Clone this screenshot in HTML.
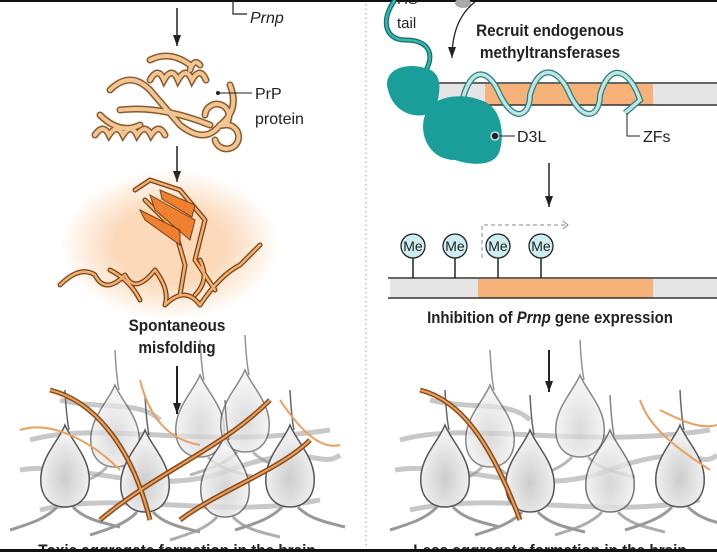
<!DOCTYPE html>
<html><head><style>
html,body{margin:0;padding:0;background:#fff;}
svg{display:block;}
text{font-family:"Liberation Sans",sans-serif;}
</style></head><body>
<svg width="717" height="552" viewBox="0 0 717 552" xmlns="http://www.w3.org/2000/svg">
<defs>
<marker id="ah" markerWidth="12" markerHeight="10" refX="11" refY="4" orient="auto" markerUnits="userSpaceOnUse">
<path d="M0,0 L11,4 L0,8 Z" fill="#222"/></marker>
<radialGradient id="glow"><stop offset="0.5" stop-color="#f5a050" stop-opacity="0.4"/><stop offset="1" stop-color="#f5a050" stop-opacity="0"/></radialGradient>
<radialGradient id="cell" cx="0.5" cy="0.65" r="0.5"><stop offset="0" stop-color="#cdcdcd"/><stop offset="1" stop-color="#f0f0f0"/></radialGradient>
<g id="neuron">
<path d="M0,-75 C1,-55 2,-45 4,-35" fill="none" stroke="#666" stroke-width="1.5"/>
<path d="M0,-40 C6,-25 22,-10 24,10 C26,32 14,42 0,42 C-14,42 -26,32 -24,10 C-22,-10 -6,-25 0,-40 Z" fill="url(#cell)" stroke="#555" stroke-width="1.5"/>
<path d="M-8,42 C-20,55 -40,60 -55,65 M8,42 C20,55 40,58 55,62" fill="none" stroke="#999" stroke-width="3"/>
</g>
<path id="prot" d="M95,135 q8,-12 14,0 q8,-12 14,0 q8,-12 14,0 q8,-12 14,0 q8,-12 14,0 M150,80 q8,-14 14,0 q8,-14 14,0 q8,-14 14,0 q8,-14 14,0 M190,70 q4,-12 10,-5 M110,90 q20,-20 40,0 l30,35 q25,20 40,0 q20,-15 10,-40 M205,115 a12,12 0 1 1 20,10 a12,12 0 1 1 -10,15 M120,110 q40,-5 90,15 M150,60 q20,-10 40,5 M100,115 q20,20 40,10"/>
<path id="mis" d="M135,190 l15,-10 30,10 25,30 -10,40 20,30 M145,200 l30,30 10,35 -5,30 M60,285 q20,-20 35,-10 q10,20 30,0 q10,20 30,-5 q15,20 10,35 q20,-20 35,0 q20,-30 40,-40 l20,-20 M110,270 q20,10 30,30 M200,260 q10,20 -5,35"/>
</defs>
<rect x="0" y="0" width="717" height="2" fill="#111"/>
<line x1="366" y1="4" x2="366" y2="548" stroke="#999" stroke-dasharray="1.5,3"/>

<!-- left top -->
<path d="M233,0 V14 H247" fill="none" stroke="#222" stroke-width="1.2"/>
<text x="250" y="23" font-size="16" font-style="italic" fill="#222">Prnp</text>
<line x1="177" y1="8" x2="177" y2="46" stroke="#222" stroke-width="1.5" marker-end="url(#ah)"/>
<use href="#prot" fill="none" stroke="#8a5a2a" stroke-width="7" stroke-linecap="round"/>
<use href="#prot" fill="none" stroke="#f2c594" stroke-width="4" stroke-linecap="round"/>
<circle cx="218" cy="93" r="2" fill="#222"/>
<line x1="218" y1="93" x2="252" y2="93" stroke="#222"/>
<text x="255" y="99" font-size="16" fill="#222">PrP</text>
<text x="255" y="124" font-size="16" fill="#222">protein</text>
<line x1="177" y1="146" x2="177" y2="182" stroke="#222" stroke-width="1.5" marker-end="url(#ah)"/>
<ellipse cx="170" cy="245" rx="110" ry="75" fill="url(#glow)"/>
<use href="#mis" fill="none" stroke="#7a4018" stroke-width="5" stroke-linecap="round" stroke-linejoin="round"/>
<use href="#mis" fill="none" stroke="#f0b070" stroke-width="2.5" stroke-linecap="round" stroke-linejoin="round"/>
<path d="M150,195 l45,25 -5,20 -35,-30 Z M140,210 l40,20 0,15 -35,-25Z M160,190 l35,15 -3,12 -30,-18Z" fill="#ee8030" stroke="#7a4018"/>
<text x="177" y="331" font-size="17" font-weight="bold" text-anchor="middle" fill="#222" transform="translate(177,0) scale(0.9,1) translate(-177,0)">Spontaneous</text>
<text x="177" y="353" font-size="17" font-weight="bold" text-anchor="middle" fill="#222" transform="translate(177,0) scale(0.9,1) translate(-177,0)">misfolding</text>

<!-- right top -->
<path d="M395,0 C380,20 385,40 405,40 C430,40 435,55 425,72" fill="none" stroke="#0f6f6c" stroke-width="5"/>
<path d="M395,0 C380,20 385,40 405,40 C430,40 435,55 425,72" fill="none" stroke="#39b3ad" stroke-width="2.5"/>
<text x="397" y="4" font-size="15" fill="#222">HS</text>
<text x="397" y="28" font-size="15" fill="#222">tail</text>
<ellipse cx="463" cy="3" rx="8" ry="5" fill="#aaa"/>
<path d="M475,2 C458,15 452,35 452,58" fill="none" stroke="#222" stroke-width="1.3" marker-end="url(#ah)"/>
<text x="550" y="36" font-size="17" font-weight="bold" text-anchor="middle" fill="#222" transform="translate(550,0) scale(0.9,1) translate(-550,0)">Recruit endogenous</text>
<text x="550" y="58" font-size="17" font-weight="bold" text-anchor="middle" fill="#222" transform="translate(550,0) scale(0.9,1) translate(-550,0)">methyltransferases</text>
<rect x="430" y="84" width="287" height="21" fill="#e5e5e5"/>
<rect x="485" y="84" width="168" height="21" fill="#f7b27a"/>
<line x1="430" y1="83" x2="717" y2="83" stroke="#333" stroke-width="1.5"/>
<line x1="430" y1="105" x2="717" y2="105" stroke="#333" stroke-width="1.5"/>
<path d="M460,110 C470,60 490,70 500,95 C515,125 530,115 530,95 C540,60 560,70 570,95 C585,125 600,115 600,95 C610,60 630,70 640,100 L625,113" fill="none" stroke="#2a7d7b" stroke-width="6"/>
<path d="M460,110 C470,60 490,70 500,95 C515,125 530,115 530,95 C540,60 560,70 570,95 C585,125 600,115 600,95 C610,60 630,70 640,100 L625,113" fill="none" stroke="#bfe6e6" stroke-width="3.5"/>
<path d="M388,90 C382,70 405,62 425,68 C445,72 440,95 435,110 C425,120 395,118 388,90 Z" fill="#1a9e9a"/>
<path d="M425,115 C430,97 460,92 480,100 C500,105 505,130 500,150 C495,168 470,165 455,160 C430,160 418,135 425,115 Z" fill="#1a9e9a"/>
<circle cx="495" cy="136" r="4" fill="#222" stroke="#bfe6e6" stroke-width="1.5"/>
<line x1="499" y1="136" x2="515" y2="136" stroke="#222"/>
<text x="517" y="142" font-size="16" fill="#222">D3L</text>
<path d="M627,113 V136 H640" fill="none" stroke="#222"/>
<text x="643" y="142" font-size="16" fill="#222">ZFs</text>
<line x1="549" y1="163" x2="549" y2="207" stroke="#222" stroke-width="1.5" marker-end="url(#ah)"/>
<path d="M482,258 V225 H566" fill="none" stroke="#888" stroke-dasharray="4,3"/>
<path d="M563,221 l5,4 -5,4" fill="none" stroke="#888"/>
<rect x="390" y="279" width="327" height="19" fill="#e5e5e5"/>
<rect x="478" y="279" width="175" height="19" fill="#f7b27a"/>
<line x1="388" y1="278" x2="717" y2="278" stroke="#333" stroke-width="1.5"/>
<line x1="388" y1="298" x2="717" y2="298" stroke="#333" stroke-width="1.5"/>
<g stroke="#222" stroke-width="1.5">
<line x1="413" y1="258" x2="413" y2="278"/><line x1="455" y1="258" x2="455" y2="278"/><line x1="498" y1="258" x2="498" y2="278"/><line x1="541" y1="258" x2="541" y2="278"/>
</g>
<g fill="#cdeef0" stroke="#222" stroke-width="1.3">
<circle cx="413" cy="246" r="12"/><circle cx="455" cy="246" r="12"/><circle cx="498" cy="246" r="12"/><circle cx="541" cy="246" r="12"/>
</g>
<g font-size="14" fill="#222" text-anchor="middle">
<text x="413" y="251">Me</text><text x="455" y="251">Me</text><text x="498" y="251">Me</text><text x="541" y="251">Me</text>
</g>
<text x="550" y="323" font-size="17" text-anchor="middle" fill="#222" font-weight="bold" transform="translate(550,0) scale(0.88,1) translate(-550,0)">Inhibition of <tspan font-style="italic">Prnp</tspan> gene expression</text>

<!-- neuron networks -->
<g fill="none" stroke="#c8c8c8" stroke-width="5">
<path d="M20,470 C80,460 150,500 230,470 S320,470 340,455 M30,440 C100,420 200,450 330,430 M40,510 C120,490 220,520 320,500 M60,400 C100,410 140,400 160,420"/>
<path d="M395,470 C460,460 530,500 610,470 S700,470 717,455 M400,440 C470,420 580,450 710,430 M410,510 C500,490 600,520 700,500 M430,400 C470,410 510,400 530,420"/>
</g>
<g>
<use href="#neuron" x="115" y="425" opacity="0.7"/><use href="#neuron" x="200" y="415" opacity="0.7"/><use href="#neuron" x="245" y="410" opacity="0.7"/>
<use href="#neuron" x="65" y="465"/><use href="#neuron" x="145" y="470"/><use href="#neuron" x="225" y="475" opacity="0.8"/><use href="#neuron" x="290" y="465"/>
<use href="#neuron" x="490" y="425" opacity="0.7"/><use href="#neuron" x="580" y="415" opacity="0.7"/>
<use href="#neuron" x="445" y="465"/><use href="#neuron" x="530" y="470"/><use href="#neuron" x="610" y="470" opacity="0.8"/><use href="#neuron" x="680" y="465"/>
</g>
<g fill="none" stroke="#8a4a18" stroke-width="5">
<path d="M100,520 C160,470 220,450 270,400"/><path d="M180,520 C220,490 280,470 310,440"/><path d="M50,390 C90,400 130,440 150,520"/>
<path d="M420,390 C460,400 490,440 520,520"/>
</g>
<g fill="none" stroke="#e8a060" stroke-width="2">
<path d="M100,520 C160,470 220,450 270,400"/><path d="M180,520 C220,490 280,470 310,440"/><path d="M50,390 C90,400 130,440 150,520"/>
<path d="M420,390 C460,400 490,440 520,520"/>
<path d="M20,430 C50,420 90,440 120,470 M280,400 C300,430 320,450 340,445 M140,380 C150,420 170,440 200,445"/>
<path d="M640,400 C650,430 680,450 710,470 M660,410 C680,420 700,430 717,425"/>
</g>
<line x1="177" y1="366" x2="177" y2="414" stroke="#222" stroke-width="2" marker-end="url(#ah)"/>
<line x1="549" y1="350" x2="549" y2="392" stroke="#222" stroke-width="2" marker-end="url(#ah)"/>
<text x="177" y="556" font-size="17" font-weight="bold" text-anchor="middle" fill="#222" transform="translate(177,0) scale(0.9,1) translate(-177,0)">Toxic aggregate formation in the brain</text>
<text x="550" y="556" font-size="17" font-weight="bold" text-anchor="middle" fill="#222" transform="translate(550,0) scale(0.9,1) translate(-550,0)">Less aggregate formation in the brain</text>
<rect x="0" y="549" width="717" height="3" fill="#111"/>
</svg>
</body></html>
